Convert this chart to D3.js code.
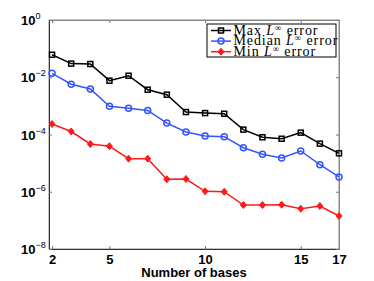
<!DOCTYPE html>
<html>
<head>
<meta charset="utf-8">
<script src="https://cdn.jsdelivr.net/npm/d3@7"></script>
<style>
  body { margin: 0; background: #fff; }
  svg text { font-family: "Liberation Sans", Arial, sans-serif; }
</style>
</head>
<body>
<svg class="chart" width="374" height="281"></svg>
<script>
/* values */
var bases = [2, 3, 4, 5, 6, 7, 8, 9, 10, 11, 12, 13, 14, 15, 16, 17];
var maxErr = [6.1e-2, 3.0e-2, 2.9e-2, 7.6e-3, 1.13e-2, 3.67e-3, 2.46e-3, 6.1e-4, 5.6e-4, 5.3e-4,
              1.48e-4, 8.0e-5, 7.1e-5, 1.16e-4, 4.8e-5, 2.2e-5];
var medianErr = [1.37e-2, 5.7e-3, 3.9e-3, 9.7e-4, 8.2e-4, 6.9e-4, 2.5e-4, 1.22e-4, 8.9e-5, 8.4e-5,
                 3.46e-5, 2.03e-5, 1.51e-5, 2.65e-5, 8.8e-6, 3.3e-6];
var minErr = [2.33e-4, 1.27e-4, 4.66e-5, 3.9e-5, 1.43e-5, 1.43e-5, 2.74e-6, 2.79e-6, 1.04e-6, 1.0e-6,
              3.44e-7, 3.44e-7, 3.53e-7, 2.56e-7, 3.18e-7, 1.42e-7];
var xTicks = [2, 5, 10, 15, 17];
var yTicks = [1, 1e-2, 1e-4, 1e-6, 1e-8];
var seriesNames = ["Max", "Median", "Min"];

var svg = d3.select(".chart"),
    margin = {top: 20, right: 35, bottom: 32, left: 49},
    width = +svg.attr("width") - margin.left - margin.right,
    height = +svg.attr("height") - margin.top - margin.bottom;

var x = d3.scaleLinear().domain([1.84, 17]).range([0, width]),
    y = d3.scaleLog().domain([1e-8, 1]).range([height, 0]);

var g = svg.append("g")
    .attr("transform", "translate(" + margin.left + "," + margin.top + ")");

/* frame with inward ticks, matlab style */
g.append("rect")
    .attr("width", width).attr("height", height)
    .attr("fill", "none").attr("stroke", "#888").attr("stroke-width", 1);

var xAxis = g.append("g")
    .attr("transform", "translate(0," + height + ")")
    .call(d3.axisBottom(x).tickValues(xTicks).tickSize(-3).tickPadding(6).tickFormat(d3.format("d")));
g.append("g")
    .call(d3.axisTop(x).tickValues(xTicks).tickSize(-3).tickFormat(""));
var yAxis = g.append("g")
    .call(d3.axisLeft(y).tickValues(yTicks).tickSize(-3).tickPadding(5).tickFormat(""));
g.append("g")
    .attr("transform", "translate(" + width + ",0)")
    .call(d3.axisRight(y).tickValues(yTicks).tickSize(-3).tickFormat(""));

g.selectAll(".domain").attr("stroke", "#888");
g.selectAll(".tick line").attr("stroke", "#777");
xAxis.select(".domain").attr("stroke", "#333");
yAxis.select(".domain").attr("stroke", "#333");

xAxis.selectAll("text")
    .attr("fill", "#000")
    .attr("font-size", 13)
    .attr("font-weight", "bold");

/* y labels: 10 with superscript exponent */
yAxis.selectAll(".tick").each(function(d) {
  var e = Math.round(Math.log10(d));
  var t = d3.select(this).append("text")
      .attr("x", -28).attr("dy", "0.35em")
      .attr("text-anchor", "start")
      .attr("fill", "#000")
      .attr("font-size", 13)
      .attr("font-weight", "bold");
  t.append("tspan").text("10");
  t.append("tspan")
      .attr("dy", -6)
      .attr("font-size", 9)
      .attr("font-weight", "normal")
      .text(e === 0 ? "0" : "\u2212" + (-e));
});

g.append("text")
    .attr("x", width / 2).attr("y", height + 28)
    .attr("text-anchor", "middle")
    .attr("font-size", 13).attr("font-weight", "bold")
    .text("Number of bases");

var series = [
  {name: seriesNames[0], values: maxErr, color: "#000000", marker: "square"},
  {name: seriesNames[1], values: medianErr, color: "#3355ff", marker: "circle"},
  {name: seriesNames[2], values: minErr, color: "#ff1a1a", marker: "diamond"}
];

var line = d3.line()
    .x(function(d) { return x(d[0]); })
    .y(function(d) { return y(d[1]); });

function drawMarker(sel, s, cx, cy) {
  if (s.marker == "square") {
    sel.append("rect")
        .attr("x", cx - 2.5).attr("y", cy - 2.5).attr("width", 5).attr("height", 5)
        .attr("fill", "none").attr("stroke", s.color).attr("stroke-width", 1.5);
  } else if (s.marker == "circle") {
    sel.append("circle")
        .attr("cx", cx).attr("cy", cy).attr("r", 3)
        .attr("fill", "none").attr("stroke", s.color).attr("stroke-width", 1.5);
  } else {
    sel.append("path")
        .attr("d", "M" + cx + "," + (cy - 3.5) + "L" + (cx + 3) + "," + cy + "L" + cx + "," + (cy + 3.5) + "L" + (cx - 3) + "," + cy + "Z")
        .attr("fill", s.color).attr("stroke", s.color).attr("stroke-width", 1);
  }
}

series.forEach(function(s) {
  var pts = bases.map(function(b, i) { return [b, s.values[i]]; });
  g.append("path")
      .datum(pts)
      .attr("d", line)
      .attr("fill", "none")
      .attr("stroke", s.color)
      .attr("stroke-width", 1.5);
  var mg = g.append("g");
  pts.forEach(function(p) { drawMarker(mg, s, x(p[0]), y(p[1])); });
});

/* legend */
var legend = svg.append("g").attr("transform", "translate(207,24)");
legend.append("rect")
    .attr("width", 129).attr("height", 33)
    .attr("fill", "#fff").attr("stroke", "#000").attr("stroke-width", 1);

series.forEach(function(s, i) {
  var ly = 6.5 + i * 10.6;
  var row = legend.append("g");
  row.append("line")
      .attr("x1", 4).attr("x2", 24).attr("y1", ly).attr("y2", ly)
      .attr("stroke", s.color).attr("stroke-width", 1.5);
  drawMarker(row, s, 14, ly);
  var t = row.append("text")
      .attr("x", 26.5).attr("y", ly + 4.2)
      .style("font-family", "'Liberation Serif', 'DejaVu Serif', serif")
      .style("letter-spacing", "0.9px")
      .attr("font-size", 14)
      .attr("fill", "#000");
  t.append("tspan").text(s.name + " ");
  t.append("tspan").attr("font-style", "italic").text("L");
  t.append("tspan").attr("dy", -4).attr("font-size", 9).text("\u221E");
  t.append("tspan").attr("dy", 4).text(" error");
});
</script>
</body>
</html>
